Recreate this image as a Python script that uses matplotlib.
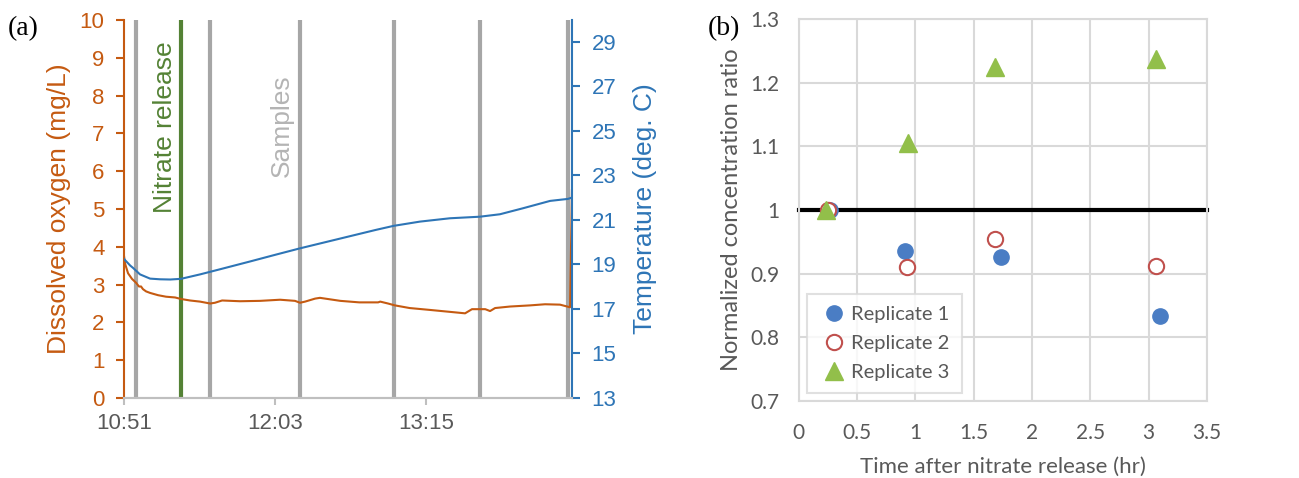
import matplotlib
matplotlib.use('Agg')
import matplotlib.pyplot as plt

# ---- panel (a) data: minutes after 10:51 ----
do_time = [0, 0.5, 1.9, 3.8, 5.7, 7.1, 8.1, 9.0, 10.5, 12.4, 16.2, 20, 24.3, 27.1, 31.4,
           36.2, 41, 43.3, 46.7, 55.2, 64.8, 74.3, 81.4, 83.8, 86.2, 91, 93.3, 103, 112,
           121, 122, 125.7, 129, 136, 145.7, 155, 162.4, 165.7, 172, 174.3, 176.7, 183.8,
           193.3, 200.5, 207.6, 212.4, 213.3]
do_vals = [3.75, 3.55, 3.3, 3.15, 3.05, 2.95, 2.95, 2.88, 2.82, 2.78, 2.72, 2.68, 2.66, 2.62,
           2.58, 2.55, 2.5, 2.52, 2.58, 2.56, 2.57, 2.6, 2.57, 2.52, 2.55, 2.63, 2.65, 2.57,
           2.53, 2.53, 2.55, 2.5, 2.45, 2.38, 2.33, 2.28, 2.24, 2.35, 2.35, 2.3, 2.38, 2.42,
           2.45, 2.48, 2.47, 2.4, 5.5]

temp_time = [0, 2.9, 4.3, 7.6, 12.4, 17.1, 22, 27.1, 36.2, 45.7, 60, 72, 83.8, 99.5, 120,
             128.4, 140.9, 155.2, 169.4, 179, 190, 202.9, 211.4, 213.3]
temp_vals = [19.24, 18.95, 18.84, 18.55, 18.36, 18.33, 18.32, 18.35, 18.55, 18.78, 19.13, 19.43,
             19.72, 20.08, 20.55, 20.73, 20.92, 21.07, 21.14, 21.25, 21.52, 21.85, 21.94, 22.0]

sample_times = [5.7, 41, 83.6, 128.4, 169.4, 211.4]
release_time = 27.1
time_ticks = [0, 72, 144]
time_labels = ['10:51', '12:03', '13:15']

# ---- panel (b) data ----
rep1_x = [0.266, 0.914, 1.731, 3.1]
rep1_y = [1.0, 0.936, 0.926, 0.834]
rep2_x = [0.251, 0.929, 1.68, 3.066]
rep2_y = [1.0, 0.911, 0.954, 0.9125]
rep3_x = [0.231, 0.934, 1.68, 3.066]
rep3_y = [1.0, 1.105, 1.225, 1.237]

orange = '#C55A11'
blue = '#2E75B6'
green = '#548235'
gray = '#A6A6A6'
txt = '#595959'
calibri_like = ['Lato', 'DejaVu Sans']

plt.rcParams['font.family'] = ['Liberation Sans', 'DejaVu Sans']

fig = plt.figure(figsize=(12.99, 4.78), dpi=100)

# panel (a)
ax1 = fig.add_axes([0.0955, 0.1674, 0.3448, 0.7906])
ax2 = ax1.twinx()
for t in sample_times:
    ax1.axvline(t, color=gray, lw=3, zorder=1)
ax1.axvline(release_time, color=green, lw=3, zorder=1)
ax1.plot(do_time, do_vals, color=orange, lw=1.5, zorder=3)
ax2.plot(temp_time, temp_vals, color=blue, lw=1.5, zorder=3)

ax1.set_xlim(0, 213.3)
ax1.set_ylim(0, 10)
ax1.set_yticks(range(0, 11))
ax2.set_ylim(13, 29.97)
ax2.set_yticks(range(13, 30, 2))
ax1.set_xticks(time_ticks)
ax1.set_xticklabels(time_labels)

ax1.tick_params(axis='x', colors='#BFBFBF', labelcolor=txt, labelsize=16, length=5,
                width=1.5, pad=6)
ax1.tick_params(axis='y', colors=orange, labelsize=16, length=6, width=1.5, pad=8)
ax2.tick_params(axis='y', colors=blue, labelsize=16, length=6, width=1.5, pad=8)
for ax in (ax1, ax2):
    ax.spines['top'].set_visible(False)
    ax.spines['bottom'].set_color('#BFBFBF')
    ax.spines['bottom'].set_linewidth(1.5)
ax1.spines['right'].set_visible(False)
ax2.spines['left'].set_visible(False)
ax1.spines['left'].set_color(orange)
ax1.spines['left'].set_linewidth(1.5)
ax2.spines['right'].set_color(blue)
ax2.spines['right'].set_linewidth(1.5)
ax1.set_ylabel('Dissolved oxygen (mg/L)', color=orange, fontsize=19, labelpad=6)
ax2.set_ylabel('Temperature (deg. C)', color=blue, fontsize=19, labelpad=12)

ax1.text(19.5, 4.9, 'Nitrate release', rotation=90, color=green, fontsize=19,
         ha='center', va='bottom')
ax1.text(75.2, 5.85, 'Samples', rotation=90, color='#B4B4B4', fontsize=19,
         ha='center', va='bottom')

fig.text(0.006, 0.94, '(a)', family=['Liberation Serif'], fontsize=20, va='center')
fig.text(0.545, 0.94, '(b)', family=['Liberation Serif'], fontsize=20, va='center')

# panel (b)
bx = fig.add_axes([0.615, 0.161, 0.314, 0.799])
bx.set_xlim(0, 3.5)
bx.set_ylim(0.7, 1.3)
bx.set_xticks([0, 0.5, 1, 1.5, 2, 2.5, 3, 3.5])
bx.set_xticklabels(['0', '0.5', '1', '1.5', '2', '2.5', '3', '3.5'])
bx.set_yticks([0.7, 0.8, 0.9, 1.0, 1.1, 1.2, 1.3])
bx.set_yticklabels(['0.7', '0.8', '0.9', '1', '1.1', '1.2', '1.3'])
bx.grid(True, color='#D9D9D9', lw=1.5)
bx.set_axisbelow(True)
for s in bx.spines.values():
    s.set_color('#D9D9D9')
    s.set_linewidth(1.5)
bx.tick_params(axis='x', length=0, labelsize=15, labelcolor=txt, pad=16)
bx.tick_params(axis='y', length=0, labelsize=15, labelcolor=txt, pad=14)
for lab in bx.get_xticklabels() + bx.get_yticklabels():
    lab.set_family(calibri_like)

bx.axhline(1.0, color='black', lw=3, zorder=2, clip_on=False)
bx.plot(rep1_x, rep1_y, 'o', color='#4A7DC4', ms=11, ls='none', label='Replicate 1', zorder=3)
bx.plot(rep2_x, rep2_y, 'o', mfc='white', mec='#C0504D', mew=1.5, ms=11, ls='none',
        label='Replicate 2', zorder=3)
bx.plot(rep3_x, rep3_y, '^', color='#92BF4A', ms=13, ls='none', label='Replicate 3', zorder=4)

bx.set_xlabel('Time after nitrate release (hr)', fontsize=16, color=txt,
              family=calibri_like, labelpad=10)
bx.set_ylabel('Normalized concentration ratio', fontsize=17, color=txt,
              family=calibri_like, labelpad=6)

leg = bx.legend(loc='lower left', bbox_to_anchor=(0.02, 0.02), borderaxespad=0,
                frameon=True, fancybox=False, edgecolor='#D9D9D9',
                prop={'family': calibri_like, 'size': 14.5},
                handletextpad=0.1, borderpad=0.6, labelspacing=0.6, handlelength=1.5)
leg.get_frame().set_linewidth(1.5)
for t in leg.get_texts():
    t.set_color(txt)

fig.savefig('out.png', dpi=100)
